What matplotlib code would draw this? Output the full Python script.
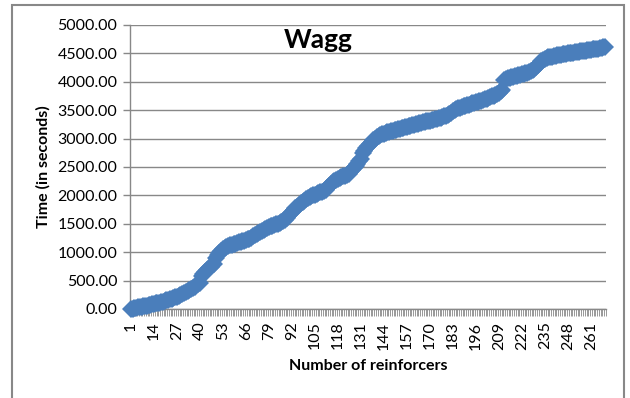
import matplotlib
matplotlib.use("Agg")
import matplotlib.pyplot as plt
from matplotlib.patches import Rectangle

plt.rcParams['font.family'] = ['Lato', 'DejaVu Sans']

title = "Wagg"
x_label = "Number of reinforcers"
y_label = "Time (in seconds)"

# cumulative time (s) at each reinforcer
times = [
    0, 8, 15, 22, 30, 36, 42, 48, 55, 61,
    68, 74, 82, 90, 97, 105, 114, 122, 131, 141,
    150, 160, 171, 182, 194, 205, 215, 228, 244, 262,
    278, 296, 315, 333, 352, 372, 395, 418, 440, 462,
    585, 620, 655, 690, 718, 745, 770, 795, 905, 950,
    990, 1025, 1050, 1070, 1090, 1105, 1118, 1130, 1142, 1152,
    1163, 1172, 1183, 1192, 1200, 1212, 1225, 1240, 1258, 1278,
    1298, 1318, 1338, 1360, 1380, 1398, 1415, 1430, 1442, 1455,
    1466, 1478, 1490, 1502, 1515, 1528, 1545, 1575, 1608, 1640,
    1672, 1705, 1738, 1770, 1800, 1830, 1858, 1885, 1910, 1932,
    1950, 1968, 1985, 2000, 2014, 2028, 2040, 2052, 2065, 2080,
    2100, 2130, 2165, 2200, 2230, 2255, 2275, 2292, 2308, 2322,
    2335, 2348, 2362, 2380, 2405, 2440, 2480, 2520, 2560, 2600,
    2640, 2740, 2790, 2835, 2875, 2910, 2945, 2975, 3000, 3022,
    3042, 3060, 3075, 3088, 3100, 3110, 3120, 3130, 3140, 3150,
    3158, 3166, 3175, 3183, 3192, 3200, 3208, 3217, 3226, 3235,
    3244, 3253, 3262, 3270, 3278, 3286, 3294, 3302, 3310, 3318,
    3326, 3334, 3343, 3352, 3361, 3370, 3380, 3392, 3405, 3420,
    3438, 3458, 3478, 3498, 3515, 3530, 3543, 3555, 3566, 3577,
    3588, 3598, 3608, 3618, 3628, 3638, 3648, 3658, 3668, 3678,
    3690, 3702, 3715, 3728, 3742, 3756, 3772, 3790, 3810, 3832,
    3855, 4040, 4055, 4065, 4075, 4083, 4090, 4098, 4106, 4114,
    4122, 4130, 4140, 4150, 4162, 4175, 4190, 4208, 4230, 4260,
    4295, 4330, 4362, 4388, 4405, 4418, 4428, 4437, 4445, 4452,
    4459, 4466, 4472, 4478, 4484, 4489, 4494, 4499, 4504, 4509,
    4514, 4519, 4524, 4529, 4534, 4539, 4544, 4549, 4554, 4559,
    4564, 4569, 4574, 4580, 4586, 4592, 4598, 4604, 4610,
]
reinforcers = list(range(1, len(times) + 1))
x_tick_labels = list(range(1, len(times) + 1, 13))
y_ticks = list(range(0, 5001, 500))

grey = "#888888"
blue = "#4a7ebb"

fig = plt.figure(figsize=(6.3, 3.98), dpi=100)
ax = fig.add_axes([130 / 630, 1 - 309 / 398, 476 / 630, 284 / 398])

ax.plot(reinforcers, times, color=blue, lw=3.5, marker="D", markersize=9,
        markeredgewidth=0, solid_joinstyle="round", zorder=3, clip_on=False)

ax.set_xlim(0.5, len(times) + 0.5)
ax.set_ylim(0, 5000)

ax.set_yticks(y_ticks)
ax.set_yticklabels([f"{v:.2f}" for v in y_ticks])
ax.yaxis.grid(True, color=grey, lw=1)
ax.set_axisbelow(True)

ax.set_xticks(x_tick_labels)
ax.set_xticklabels([str(v) for v in x_tick_labels], rotation=90)
ax.set_xticks([i + 0.5 for i in range(0, len(times) + 1)], minor=True)
ax.tick_params(axis="x", which="major", length=0, pad=9, labelsize=11.5, colors="black")
ax.tick_params(axis="x", which="minor", length=5, width=0.6, color=grey)
ax.tick_params(axis="y", which="major", length=5, width=1, color=grey, pad=4,
               labelsize=11.5)

for side in ("top", "right"):
    ax.spines[side].set_visible(False)
for side in ("left", "bottom"):
    ax.spines[side].set_color(grey)
    ax.spines[side].set_linewidth(1)

fig.text(318 / 630, 1 - 48 / 398, title, fontsize=19, fontweight="bold",
         ha="center", va="baseline")
fig.text(368 / 630, 1 - 366 / 398, x_label, fontsize=11.5, fontweight="bold",
         ha="center", va="center")
fig.text(43 / 630, 1 - 167 / 398, y_label, fontsize=11.5, fontweight="bold",
         ha="center", va="center", rotation=90)

# chart frame
fig.patches.append(Rectangle((12 / 630, -0.2), 612 / 630, 1 - 5 / 398 + 0.2,
                             transform=fig.transFigure, fill=False,
                             edgecolor=grey, lw=1.5))

fig.savefig("out.png", dpi=100, facecolor="white")
